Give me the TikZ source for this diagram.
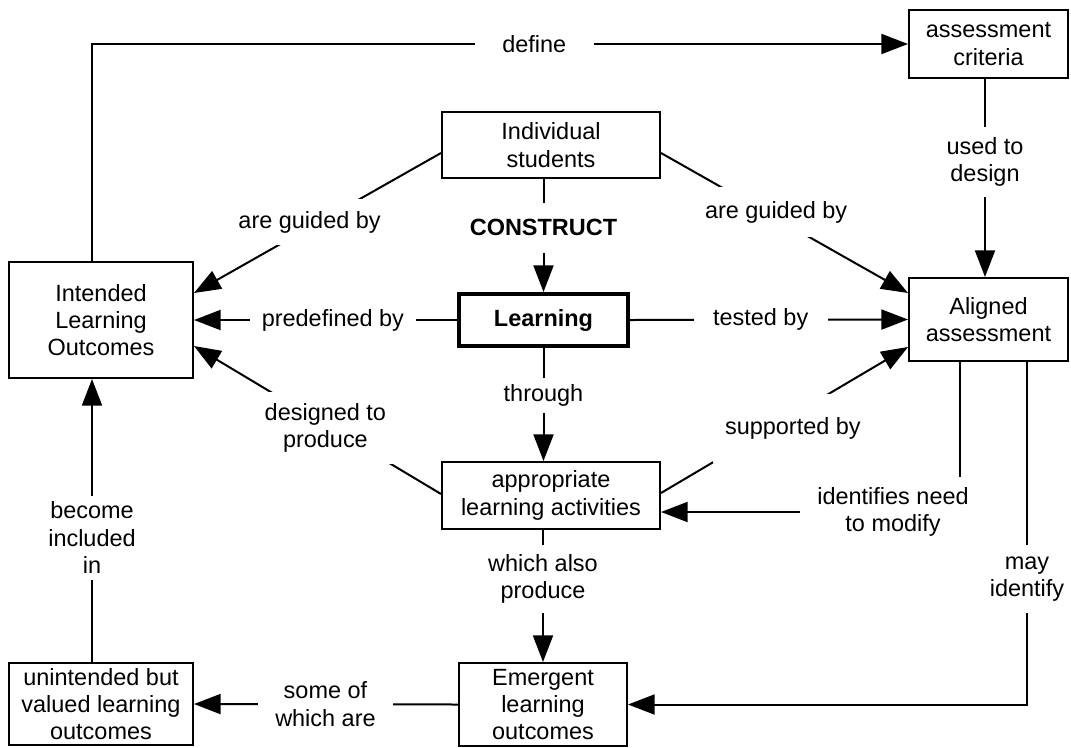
\documentclass[tikz,border=0pt]{standalone}
\usepackage{fontspec}
\setmainfont{Liberation Sans}
\usetikzlibrary{arrows.meta,calc}
\begin{document}
\begin{tikzpicture}[x=0.75pt,y=-0.75pt,
  every node/.style={font=\fontsize{17.6pt}{20.5pt}\selectfont, align=center},
  box/.style={draw, line width=1.5pt, inner sep=0pt},
  lbl/.style={fill=white, inner xsep=9pt, inner ysep=0pt},
  con/.style={line width=1.5pt},
  arr/.style={con, -{Triangle[length=20pt,width=15pt]}}]
\useasboundingbox (0,0) rectangle (1071,747);
% boxes
\node[box, minimum width=119.25pt, minimum height=51pt] (crit) at (988.5,44) {assessment\\criteria};
\node[box, minimum width=163.5pt, minimum height=49.5pt] (indiv) at (551,145) {Individual\\students};
\node[box, line width=3pt, minimum width=126.75pt, minimum height=39pt, font=\fontsize{17.6pt}{20.5pt}\selectfont\bfseries] (learn) at (543.5,320) {Learning};
\node[box, minimum width=138pt, minimum height=87pt] (ilo) at (101,320) {Intended\\Learning\\Outcomes};
\node[box, minimum width=119.25pt, minimum height=62.25pt] (aligned) at (988.5,319.5) {Aligned\\assessment};
\node[box, minimum width=163.5pt, minimum height=50.25pt] (act) at (551,495.5) {appropriate\\learning activities};
\node[box, minimum width=126pt, minimum height=62.25pt] (emerg) at (543,704.5) {Emergent\\learning\\outcomes};
\node[box, minimum width=138pt, minimum height=61.5pt] (unint) at (101,704) {unintended but\\valued learning\\outcomes};
% connectors
\draw[arr] ($(ilo.north)+(-9,0)$) |- node[lbl, pos=0.771, minimum width=89pt, inner xsep=0pt] {define} (crit.west);
\draw[arr] ($(crit.south)+(-3.5,0)$) -- node[lbl, pos=0.42, minimum height=52.5pt] {used to\\design} ($(aligned.north)+(-3.5,0)$);
\draw[arr] ($(indiv.west)+(0,8)$) -- node[lbl, pos=0.532, yshift=4pt, minimum height=34pt] {are guided by} ($(ilo.east)+(0,-27)$);
\draw[arr] ($(indiv.east)+(0,8)$) -- node[lbl, pos=0.466, yshift=4.5pt, minimum height=37.5pt] {are guided by} ($(aligned.west)+(0,-26.5)$);
\draw[arr] (learn.north |- indiv.south) -- node[lbl, pos=0.431, minimum height=37.5pt, font=\fontsize{17.6pt}{20.5pt}\selectfont\bfseries] {CONSTRUCT} (learn.north);
\draw[arr] (learn.west) -- node[lbl, pos=0.472, minimum width=125pt, inner xsep=0pt, minimum height=28pt] {predefined by} (ilo.east);
\draw[arr] (learn.east) -- node[lbl, pos=0.47, minimum width=100.5pt, inner xsep=0pt, minimum height=28pt] {tested by} (aligned.west);
\draw[arr] (learn.south) -- node[lbl, pos=0.418, minimum height=26.25pt] {through} (learn.south |- act.north);
\draw[arr] ($(act.west)+(0,-1.5)$) -- node[lbl, pos=0.468, yshift=-2.5pt, minimum height=54pt] {designed to\\produce} ($(ilo.east)+(0,26)$);
\draw[arr] ($(act.east)+(0,-2.5)$) -- node[lbl, pos=0.534, yshift=-10pt, minimum height=52pt] {supported by} ($(aligned.west)+(0,27.5)$);
\draw[arr] ($(aligned.south)+(-28.5,0)$) |- node[lbl, pos=0.612, minimum width=139.5pt, minimum height=52.5pt, inner xsep=0pt] {identifies need\\to modify} ($(act.east)+(0,16.5)$);
\draw[arr] ($(aligned.south)+(38.5,0)$) |- node[lbl, pos=0.317, minimum height=51pt, inner xsep=4pt] {may\\identify} (emerg.east);
\draw[arr] (emerg.north |- act.south) -- node[lbl, pos=0.373, minimum height=51pt] {which also\\produce} (emerg.north);
\draw[arr] (emerg.west) -- node[lbl, pos=0.502, minimum width=101pt, inner xsep=0pt] {some of\\which are} (unint.east);
\draw[arr] ($(unint.north)+(-9,0)$) -- node[lbl, pos=0.439, minimum height=63pt] {become\\included\\in} ($(ilo.south)+(-9,0)$);
\end{tikzpicture}
\end{document}
